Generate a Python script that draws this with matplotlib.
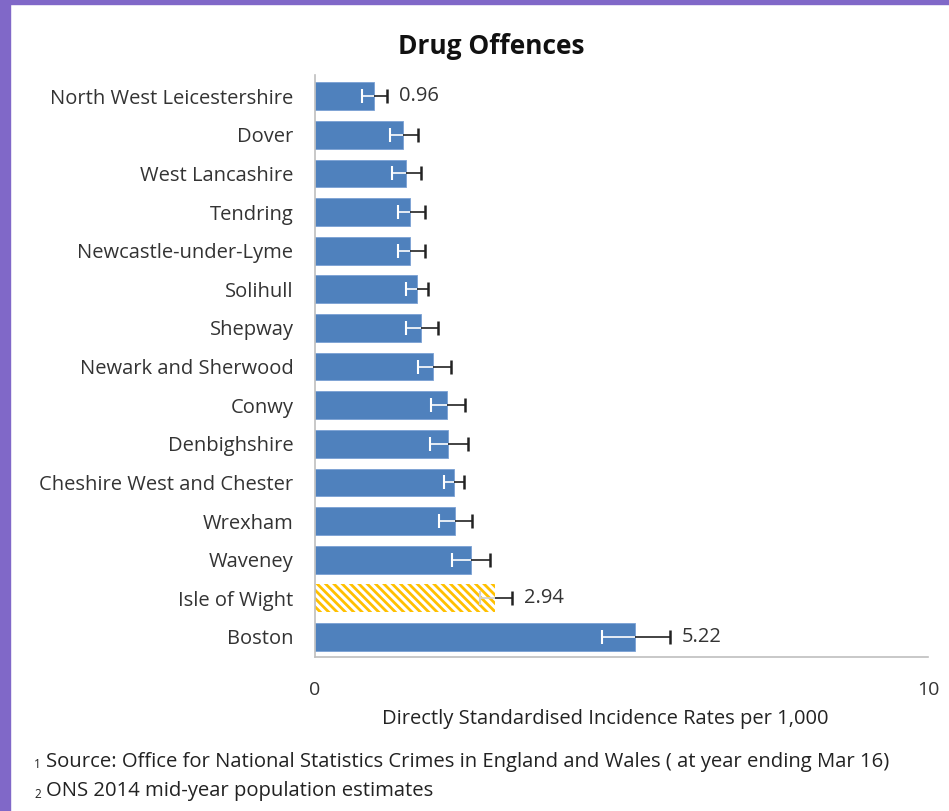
import numpy as np
import matplotlib.pyplot as plt
from matplotlib.patches import Rectangle

plt.rcParams['font.family'] = ['Open Sans', 'DejaVu Sans']
plt.rcParams['hatch.linewidth'] = 2.0

areas = ['North West Leicestershire', 'Dover', 'West Lancashire', 'Tendring',
         'Newcastle-under-Lyme', 'Solihull', 'Shepway', 'Newark and Sherwood',
         'Conwy', 'Denbighshire', 'Cheshire West and Chester', 'Wrexham',
         'Waveney', 'Isle of Wight', 'Boston']
rates = [0.96, 1.44, 1.48, 1.55, 1.55, 1.66, 1.73, 1.93, 2.15, 2.17, 2.26,
         2.28, 2.54, 2.94, 5.22]
ci_low = [0.77, 1.22, 1.26, 1.35, 1.36, 1.49, 1.49, 1.68, 1.89, 1.87, 2.10,
          2.02, 2.24, 2.69, 4.68]
ci_high = [1.18, 1.68, 1.73, 1.79, 1.80, 1.85, 2.01, 2.21, 2.45, 2.49, 2.43,
           2.56, 2.86, 3.22, 5.79]
labelled = ['North West Leicestershire', 'Isle of Wight', 'Boston']
highlight = 'Isle of Wight'

fig = plt.figure(figsize=(9.49, 8.11), dpi=100)
fig.patches.append(Rectangle((0, 0), 10 / 949, 1, transform=fig.transFigure,
                             color='#8068c8', zorder=0))
fig.patches.append(Rectangle((0, 1 - 4 / 811), 1, 4 / 811, transform=fig.transFigure,
                             color='#8068c8', zorder=0))

ax = fig.add_axes([315 / 949, 154 / 811, 613.3 / 949, 582 / 811])

y = np.arange(len(areas))[::-1]
for yi, name, v, lo, hi in zip(y, areas, rates, ci_low, ci_high):
    if name == highlight:
        ax.barh(yi, v, height=0.72, color='white', edgecolor='#ffc000',
                hatch='\\\\\\\\', linewidth=0, zorder=2)
        inner = '#d0d0d0'
    else:
        ax.barh(yi, v, height=0.72, color='#4f81bd', edgecolor='#7aa0d4',
                linewidth=0.6, zorder=2)
        inner = 'white'
    ax.hlines(yi, lo, v, color=inner, linewidth=1.2, zorder=3)
    ax.plot([lo], [yi], marker='|', color=inner, markersize=9.5,
            markeredgewidth=1.5, zorder=3)
    ax.hlines(yi, v, hi, color='#222222', linewidth=1.2, zorder=3)
    ax.plot([hi], [yi], marker='|', color='#222222', markersize=9.5,
            markeredgewidth=1.8, zorder=3)
    if name in labelled:
        ax.annotate(f'{v:.2f}', (hi, yi), xytext=(8.5, 0), textcoords='offset points',
                    va='center', ha='left', fontsize=14.5, color='#333333')

ax.set_xlim(0, 10)
ax.set_ylim(-0.52, 14.55)
ax.set_xticks([0, 10])
ax.set_yticks(y)
ax.set_yticklabels(areas, fontsize=14.5, color='#333333')
ax.tick_params(axis='x', length=0, pad=17, labelsize=14, labelcolor='#333333')
ax.tick_params(axis='y', length=0, pad=15.5)
for s in ['top', 'right']:
    ax.spines[s].set_visible(False)
for s in ['left', 'bottom']:
    ax.spines[s].set_color('#bfbfbf')
    ax.spines[s].set_linewidth(1.2)

fig.text(491 / 949, 1 - 46 / 811, 'Drug Offences', ha='center', va='center',
         fontsize=19, fontweight='bold', color='#111111')
fig.text(605 / 949, 1 - 719 / 811, 'Directly Standardised Incidence Rates per 1,000',
         ha='center', va='center', fontsize=14.5, color='#222222')

notes = ['Source: Office for National Statistics Crimes in England and Wales ( at year ending Mar 16)',
         'ONS 2014 mid-year population estimates']
for i, (note, ypix) in enumerate(zip(notes, [762, 791])):
    fig.text(34 / 949, 1 - (ypix + 3) / 811, str(i + 1), ha='left', va='center',
             fontsize=8.5, color='#222222')
    fig.text(46 / 949, 1 - ypix / 811, note, ha='left', va='center',
             fontsize=14.6, color='#222222')

fig.savefig('out.png', dpi=100)
